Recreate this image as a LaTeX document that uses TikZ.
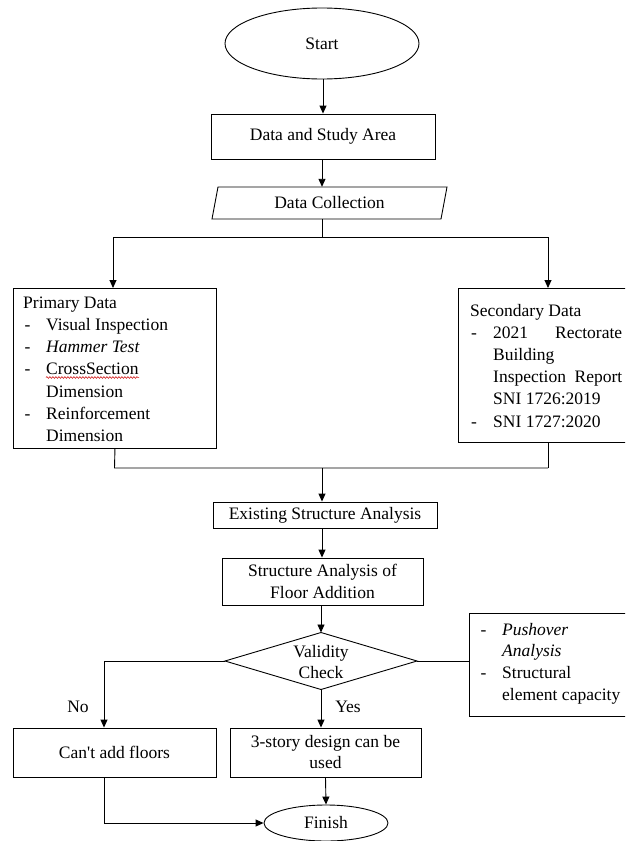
\documentclass[tikz,border=0pt]{standalone}
\usepackage{fontspec}
\setmainfont{Liberation Serif}
\usetikzlibrary{shapes.geometric,arrows.meta,decorations.pathmorphing}
\begin{document}
\begin{tikzpicture}[x=1pt,y=-1pt,
  every node/.style={font=\fontsize{17.5}{21.5}\selectfont},
  line/.style={draw=black,line width=0.9pt},
  arr/.style={line,-{Triangle[length=8pt,width=7pt]}},
  box/.style={draw=black,line width=0.9pt,rectangle,inner sep=0pt},
  txt/.style={inner sep=0pt,anchor=base west},
  dashitem/.style={inner sep=0pt,anchor=base}
]
\useasboundingbox (0,0) rectangle (625,841);
\clip (0,0) rectangle (625,841);
\fill[white] (0,0) rectangle (625,841);

% Start
\node[ellipse,draw=black,line width=0.9pt,minimum width=194pt,minimum height=71pt,inner sep=0pt] (start) at (322,43.5) {Start};
% Data and Study Area
\node[box,minimum width=224pt,minimum height=45pt] (data) at (323,136.5) {Data and Study Area};
% Data Collection (parallelogram)
\node[inner sep=0pt,minimum width=229pt,minimum height=32pt] (coll) at (329.5,203) {Data Collection};
\draw[line] (218,187) -- (447,187) -- (441,219) -- (212,219) -- cycle;

\coordinate (split) at (322,237);
\coordinate (sL) at (113,237);
\coordinate (sR) at (548,237);

% Primary data box
\node[box,anchor=north west,minimum width=203pt,minimum height=160pt] (prim) at (13,288) {};
\node[txt] (p1) at (23,308.5) {Primary Data};
\node[dashitem] (pd1) at (27.5,330.5) {-};
\node[txt] (p2) at (46,330.5) {Visual Inspection};
\node[dashitem] (pd2) at (27.5,352.5) {-};
\node[txt] (p3) at (46,352.5) {\itshape Hammer Test};
\node[dashitem] (pd3) at (27.5,374.5) {-};
\node[txt] (p4) at (46,374.5) {CrossSection};
\node[txt] (p5) at (46,397) {Dimension};
\node[dashitem] (pd4) at (27.5,419) {-};
\node[txt] (p6) at (46,419) {Reinforcement};
\node[txt] (p7) at (46,441.5) {Dimension};
\draw[red!80!black,line width=0.5pt,decorate,decoration={snake,amplitude=0.9pt,segment length=3pt}] (p4.base west) ++(0,3) -- ++(93,0);

% Secondary data box
\node[box,anchor=north west,minimum width=170pt,minimum height=154pt] (sec) at (458,288) {};
\node[txt] (s1) at (470,316.5) {Secondary Data};
\node[dashitem] (sd1) at (474,338.5) {-};
\node[txt] (s2) at (493,338.5) {\makebox[129pt][s]{2021\hfill Rectorate}};
\node[txt] (s3) at (493,360.5) {Building};
\node[txt] (s4) at (493,382.5) {\makebox[129pt][s]{Inspection\hfill Report}};
\node[txt] (s5) at (493,404.5) {SNI 1726:2019};
\node[dashitem] (sd2) at (474,427) {-};
\node[txt] (s6) at (493,427) {SNI 1727:2020};

\coordinate (mL) at (114.5,468);
\coordinate (mR) at (548,468);
\coordinate (mC) at (322,468);

% Existing structure analysis
\node[box,minimum width=224pt,minimum height=26pt] (exist) at (325,515) {Existing Structure Analysis};
% Structure analysis of floor addition
\node[box,minimum width=201pt,minimum height=47pt,align=center] (struct) at (322.5,581.5) {Structure Analysis of\\Floor Addition};

% Validity check diamond
\coordinate (chkL) at (225,661);
\coordinate (chkR) at (417,661);
\coordinate (chkT) at (321,632.5);
\coordinate (chkB) at (321,689.5);
\draw[line] (chkL) -- (chkT) -- (chkR) -- (chkB) -- cycle;
\node[inner sep=0pt,align=center,font=\fontsize{17.5}{21}\selectfont] (chk) at (321,662) {Validity\\Check};

% Pushover box
\node[box,anchor=north west,minimum width=159pt,minimum height=103pt] (push) at (469,613) {};
\node[dashitem] (qd1) at (483.5,635.5) {-};
\node[txt] (q1) at (502,635.5) {\itshape Pushover};
\node[txt] (q2) at (502,656.5) {\itshape Analysis};
\node[dashitem] (qd2) at (483.5,678.5) {-};
\node[txt] (q3) at (502,678.5) {Structural};
\node[txt] (q4) at (502,700.5) {element capacity};

% Outcome boxes
\node[box,minimum width=203pt,minimum height=49pt] (cant) at (114.5,752.5) {Can\textquotesingle t add floors};
\node[box,minimum width=191pt,minimum height=49pt,align=center,font=\fontsize{17.5}{21}\selectfont] (story) at (325.5,752.5) {3-story design can be\\used};
\node[ellipse,draw=black,line width=0.9pt,minimum width=124pt,minimum height=36pt,inner sep=0pt] (fin) at (326,823) {Finish};

\coordinate (noTurn) at (104,661);
\node[inner sep=0pt] (nolbl) at (78,707) {No};
\node[inner sep=0pt] (yeslbl) at (348,707) {Yes};

% Connectors
\draw[arr] (start.south -| data.north) -- (data.north);
\draw[arr] (split |- data.south) -- (split |- coll.north);
\draw[line] (split |- coll.south) -- (split);
\draw[line] (sL) -- (sR);
\draw[arr] (sL) -- (sL |- prim.north);
\draw[arr] (sR) -- (sR |- sec.north);
\draw[line] (prim.south) -- (mL) -- (mR);
\draw[line] (mR |- sec.south) -- (mR);
\draw[arr] (mC) -- (mC |- exist.north);
\draw[arr] (mC |- exist.south) -- (mC |- struct.north);
\draw[arr] (chkT |- struct.south) -- (chkT);
\draw[line] (chkR) -- (chkR -| push.west);
\draw[arr] (chkL) -- (noTurn) -- (noTurn |- cant.north);
\draw[arr] (chkB) -- (chkB |- story.north);
\draw[arr] (story.south) -- (fin.north);
\draw[arr] (noTurn |- cant.south) |- (fin.west);
\end{tikzpicture}
\end{document}
